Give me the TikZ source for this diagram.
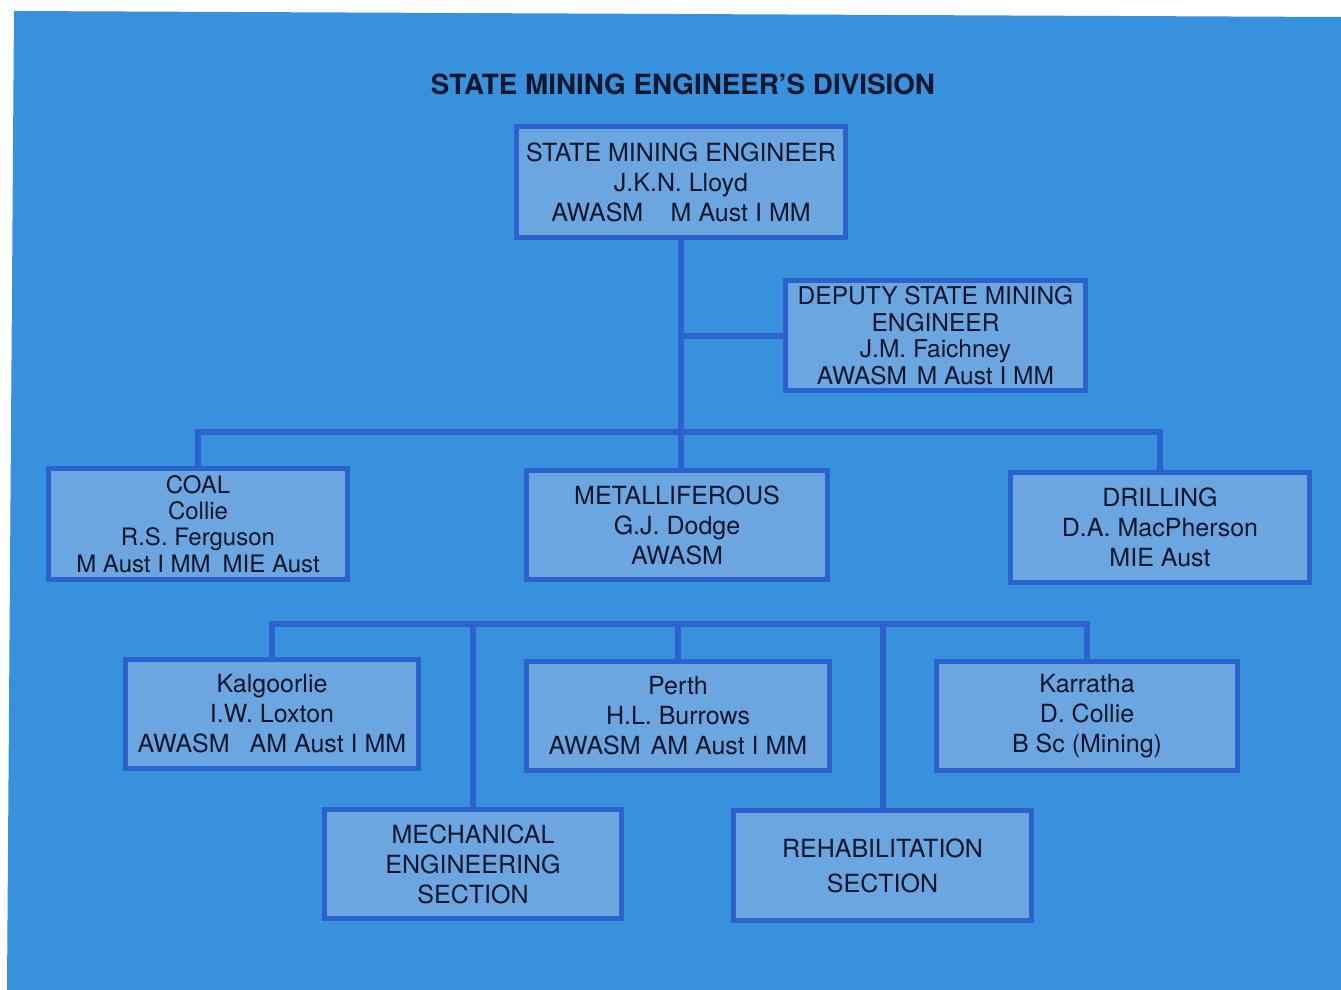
\documentclass[tikz,border=0pt]{standalone}
\usepackage{fontspec}
\setmainfont{TeX Gyre Heros}
\definecolor{bgblue}{RGB}{56,145,220}
\definecolor{boxfill}{RGB}{108,166,224}
\definecolor{boxline}{RGB}{44,98,206}
\definecolor{inktext}{RGB}{16,22,44}
\tikzset{
  orgbox/.style={draw=boxline, line width=5.5pt, fill=boxfill, align=center,
    text=inktext, inner sep=0pt, font=\fontsize{25}{30}\selectfont},
  conn/.style={draw=boxline, line width=6pt},
  titletext/.style={text=inktext, font=\fontsize{27.8}{30}\selectfont\bfseries, inner sep=0pt}
}
\begin{document}
\begin{tikzpicture}[x=1pt,y=-1pt]
\useasboundingbox (0,0) rectangle (1341,990);
\fill[white] (0,0) rectangle (1341,990);
\fill[bgblue] (14,11) -- (1341,17) -- (1341,990) -- (7,990) -- cycle;

\node[titletext] (title) at (683,84) {STATE MINING ENGINEER'S DIVISION};

\node[orgbox, minimum width=329pt, minimum height=111pt] (sme) at (681,182)
  {STATE MINING ENGINEER\\J.K.N. Lloyd\\AWASM\hspace{1.1em}M Aust I MM};
\node[orgbox, minimum width=300pt, minimum height=110pt, font=\fontsize{24.5}{26.7}\selectfont] (dep) at (935.5,335.5)
  {DEPUTY STATE MINING\\ENGINEER\\J.M. Faichney\\AWASM\hspace{0.4em}M Aust I MM};
\node[orgbox, minimum width=299pt, minimum height=111pt, font=\fontsize{24}{26.3}\selectfont] (coal) at (198,524)
  {COAL\\Collie\\R.S. Ferguson\\M Aust I MM\hspace{0.5em}MIE Aust};
\node[orgbox, minimum width=301pt, minimum height=109pt] (metal) at (677,525)
  {METALLIFEROUS\\G.J. Dodge\\AWASM};
\node[orgbox, minimum width=299pt, minimum height=110pt] (drill) at (1160,527.5)
  {DRILLING\\D.A. MacPherson\\MIE Aust};
\node[orgbox, minimum width=293pt, minimum height=109pt] (kal) at (272,714)
  {Kalgoorlie\\I.W. Loxton\\AWASM\hspace{0.8em}AM Aust I MM};
\node[orgbox, minimum width=303pt, minimum height=109pt] (perth) at (678,716)
  {Perth\\H.L. Burrows\\AWASM\hspace{0.4em}AM Aust I MM};
\node[orgbox, minimum width=301pt, minimum height=109pt] (kar) at (1087,716)
  {Karratha\\D. Collie\\B Sc (Mining)};
\node[orgbox, minimum width=297pt, minimum height=109pt] (mech) at (473,864)
  {MECHANICAL\\ENGINEERING\\SECTION};
\node[orgbox, minimum width=298pt, minimum height=110pt, font=\fontsize{25}{35}\selectfont] (reh) at (882.5,865.5)
  {REHABILITATION\\SECTION};

\coordinate (busA) at (681,432);
\coordinate (busB) at (681,624);

% connectors
\draw[conn] (sme.south) -- (sme.south |- metal.north);
\draw[conn] (dep.west) -- (dep.west -| sme.south);
\draw[conn] (coal.north) -- (coal.north |- busA) -- (drill.north |- busA) -- (drill.north);
\draw[conn] (metal.south -| sme.south) -- (metal.south -| sme.south |- busB);
\draw[conn] (kal.north) -- (kal.north |- busB) -- (kar.north |- busB) -- (kar.north);
\draw[conn] (perth.north) -- (perth.north |- busB);
\draw[conn] (mech.north) -- (mech.north |- busB);
\draw[conn] (reh.north) -- (reh.north |- busB);
\end{tikzpicture}
\end{document}
